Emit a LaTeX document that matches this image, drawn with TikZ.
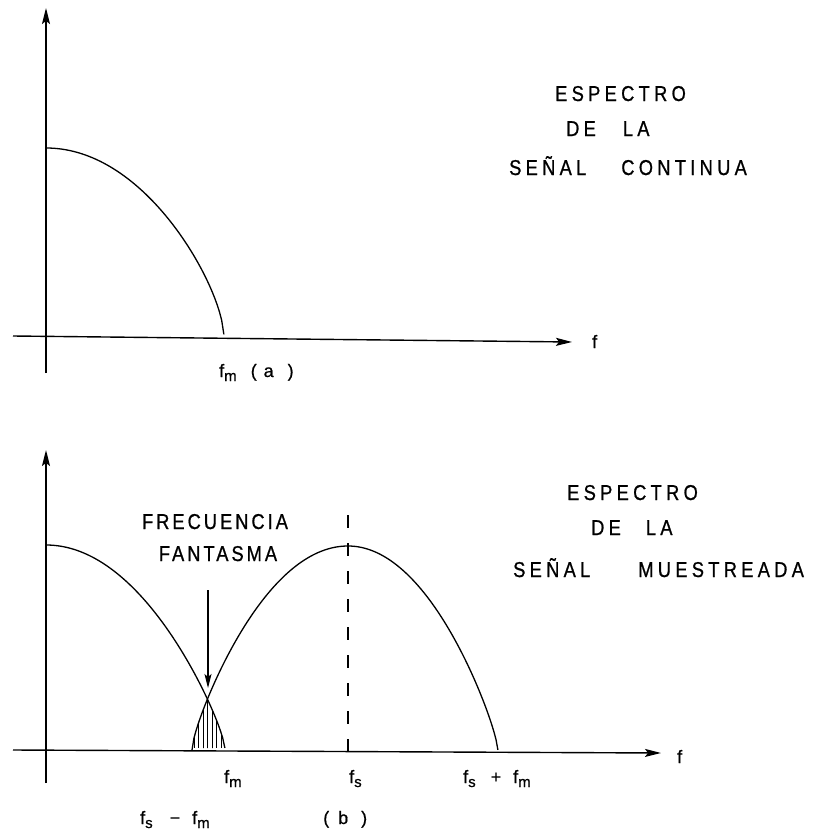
\documentclass[tikz,border=0pt]{standalone}
\usepackage{fontspec}
\setmainfont{Liberation Sans}
\newfontfamily\lettering[FakeStretch=0.85,LetterSpace=20,FakeBold=0.8]{Liberation Sans}
\newfontfamily\ghostlettering[FakeStretch=0.85,LetterSpace=14,FakeBold=0.8]{Liberation Sans}
\newfontfamily\labfont[FakeBold=0.6]{Liberation Sans}
\usepackage{tikz}
\usetikzlibrary{arrows.meta, positioning}
\newcommand{\fsub}[2]{#1\raisebox{-4pt}{\fontsize{15}{15}\selectfont #2}}

\begin{document}
\begin{tikzpicture}[x=1pt, y=-1pt,
    axisline/.style={line width=1.4pt, -{Stealth[length=16pt, width=8pt, inset=3pt]}},
    curve/.style={line width=1.3pt},
    ptr/.style={line width=1.1pt, -{Stealth[length=14pt, width=7pt, inset=3pt]}},
    hatch/.style={line width=0.9pt},
    fsline/.style={line width=1.3pt, dash pattern=on 13pt off 15pt},
    heading/.style={font=\lettering\fontsize{21.5}{24}\selectfont, anchor=base west, inner sep=0pt},
    ghost/.style={font=\ghostlettering\fontsize{21.5}{24}\selectfont, anchor=base, inner sep=0pt},
    lbl/.style={font=\labfont\fontsize{18}{20}\selectfont, anchor=base west, inner sep=0pt},
    declare function={lobe(\t,\a)=\a*\t*\t+(1-\a)*(1-sqrt(max(0,1-\t*\t)));},
]
\useasboundingbox (0,0) rectangle (816,833);

% (a) continuous spectrum
\coordinate (ta0) at (46,373);
\coordinate (ta1) at (46,8);
\coordinate (tx0) at (13,336);
\coordinate (tx1) at (572,342);
\draw[axisline] (ta0) -- (ta1);
\draw[axisline] (tx0) -- (tx1);
\draw[curve] plot[domain=0:1, samples=80] ({46+178*\x}, {148+190*lobe(\x,0.5)});

\node[lbl] (fa) at (592,348) {f};
\node[lbl] (fma) at (219,377) {\fsub{f}{m}\hspace{14pt}(\hspace{7pt}a\hspace{14pt})};

\node[heading] (esa) at (555,101) {ESPECTRO};
\node[heading] (dla) at (566,136) {DE\hspace{27pt}LA};
\node[heading] (sca) at (509,175) {SEÑAL\hspace{35pt}CONTINUA};

% (b) sampled spectrum
\coordinate (ba0) at (46,783);
\coordinate (ba1) at (46,450);
\coordinate (bx0) at (13,750);
\coordinate (bx1) at (661,753);
\draw[axisline] (ba0) -- (ba1);
\draw[axisline] (bx0) -- (bx1);
\draw[curve] plot[domain=0:1, samples=80] ({46+179*\x}, {545+205*lobe(\x,0.75)});
\draw[curve] plot[domain=1:0, samples=80] ({348-156*\x}, {546+204*lobe(\x,0.75)})
  -- plot[domain=0:1, samples=80] ({348+150*\x}, {546+206*lobe(\x,0.75)});

\begin{scope}
  \clip plot[domain=0:1, samples=60] ({46+179*\x}, {545+205*lobe(\x,0.75)}) -- (46,750) -- cycle;
  \clip plot[domain=0:1, samples=60] ({348-156*\x}, {546+204*lobe(\x,0.75)}) -- (348,750) -- cycle;
  \foreach \hx in {194,198.5,...,224}
    \draw[hatch] (\hx,690) -- (\hx,751);
\end{scope}

\coordinate (fst) at (348,515);
\coordinate (fsa) at (348,752);
\draw[fsline] (fst) -- (fsa);

\node[ghost] (frq) at (215,529) {FRECUENCIA};
\node[ghost] (fan) at (218,561) {FANTASMA};
\coordinate (gtop) at (208,590);
\coordinate (gx) at (208,688);
\draw[ptr] (gtop) -- (gx);

\node[lbl] (fb) at (677,763) {f};
\node[lbl] (fmb) at (224,783) {\fsub{f}{m}};
\node[lbl] (fsb) at (349,783) {\fsub{f}{s}};
\node[lbl] (fspm) at (463,783) {\fsub{f}{s}\hspace{15pt}+\hspace{12pt}\fsub{f}{m}};
\node[lbl] (fsmm) at (140,824) {\fsub{f}{s}\hspace{17pt}−\hspace{12pt}\fsub{f}{m}};
\node[lbl] (bb) at (323,824) {(\hspace{9pt}b\hspace{13pt})};

\node[heading] (esb) at (567,500) {ESPECTRO};
\node[heading] (dlb) at (591,535) {DE\hspace{25pt}LA};
\node[heading] (smb) at (513,577) {SEÑAL\hspace{48pt}MUESTREADA};
\end{tikzpicture}
\end{document}
